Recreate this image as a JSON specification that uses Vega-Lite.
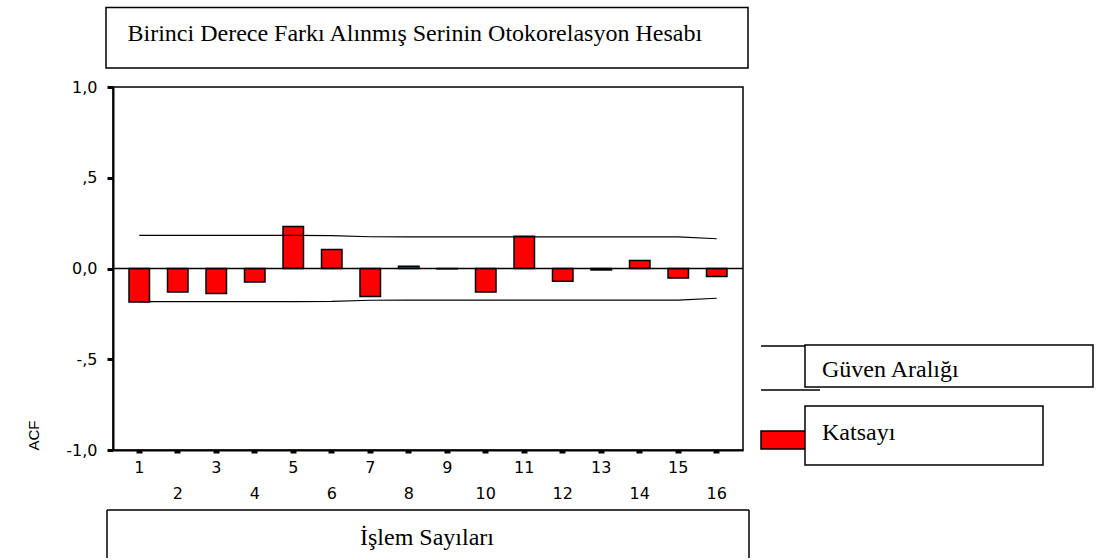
{
  "$schema": "https://vega.github.io/schema/vega-lite/v6.json",
  "width": 630,
  "height": 363,
  "autosize": {"type": "none"},
  "padding": {"left": 113, "top": 87, "right": 360, "bottom": 110},
  "background": "white",
  "config": {
    "view": {"stroke": "black", "strokeWidth": 1.5},
    "axis": {"domainColor": "black", "domainWidth": 2, "tickColor": "black", "labelColor": "black", "labelFont": "DejaVu Sans", "labelFontSize": 16, "grid": false},
    "legend": {"orient": "none", "title": null, "padding": 0, "symbolSize": 4, "symbolStrokeWidth": 1.5, "symbolStrokeColor": "black", "labelFont": "Liberation Serif", "labelFontSize": 24, "labelColor": "black", "labelLimit": 0}
  },
  "layer": [
    {
      "data": {"values": [
        {"lag": 1, "acf": -0.185, "seri": "Katsayı"},
        {"lag": 2, "acf": -0.13, "seri": "Katsayı"},
        {"lag": 3, "acf": -0.138, "seri": "Katsayı"},
        {"lag": 4, "acf": -0.075, "seri": "Katsayı"},
        {"lag": 5, "acf": 0.231, "seri": "Katsayı"},
        {"lag": 6, "acf": 0.105, "seri": "Katsayı"},
        {"lag": 7, "acf": -0.154, "seri": "Katsayı"},
        {"lag": 8, "acf": 0.012, "seri": "Katsayı"},
        {"lag": 9, "acf": -0.002, "seri": "Katsayı"},
        {"lag": 10, "acf": -0.13, "seri": "Katsayı"},
        {"lag": 11, "acf": 0.178, "seri": "Katsayı"},
        {"lag": 12, "acf": -0.07, "seri": "Katsayı"},
        {"lag": 13, "acf": -0.008, "seri": "Katsayı"},
        {"lag": 14, "acf": 0.044, "seri": "Katsayı"},
        {"lag": 15, "acf": -0.053, "seri": "Katsayı"},
        {"lag": 16, "acf": -0.044, "seri": "Katsayı"}
      ]},
      "mark": {"type": "bar", "stroke": "black", "strokeWidth": 1.5},
      "encoding": {
        "x": {"field": "lag", "type": "ordinal",
          "scale": {"paddingInner": 0.468, "paddingOuter": 0.416},
          "axis": {"title": null, "labelAngle": 0, "tickSize": 3, "tickWidth": 6, "labelPadding": 6, "labelBaseline": "top", "labelLineHeight": 26, "labelOverlap": false,
            "labelExpr": "datum.value % 2 == 0 ? ['', datum.label] : datum.label"}},
        "y": {"field": "acf", "type": "quantitative",
          "scale": {"domain": [-1, 1], "nice": false, "zero": false},
          "axis": {"title": "ACF", "values": [-1, -0.5, 0, 0.5, 1], "tickSize": 6, "tickWidth": 3, "labelPadding": 10, "labelFlush": false,
            "labelExpr": "datum.value == 1 ? '1,0' : datum.value == 0.5 ? ',5' : datum.value == 0 ? '0,0' : datum.value == -0.5 ? '-,5' : '-1,0'",
            "titleFont": "Liberation Sans", "titleFontSize": 15, "titleFontWeight": "normal", "titleColor": "black", "titleAnchor": "start", "titlePadding": 24}},
        "fill": {"field": "seri", "type": "nominal", "scale": {"range": ["#ff0000"]},
          "legend": {"legendX": 658, "legendY": 334, "symbolType": "M-22,-2H22V16H-22Z M22,-27H260V32H22Z M22,-27V32H260V-27Z", "labelOffset": 27}}
      }
    },
    {
      "data": {"values": [
        {"lag": 1, "ust": 0.182, "alt": -0.182, "seri": "Güven Aralığı"},
        {"lag": 2, "ust": 0.182, "alt": -0.182, "seri": "Güven Aralığı"},
        {"lag": 3, "ust": 0.182, "alt": -0.182, "seri": "Güven Aralığı"},
        {"lag": 4, "ust": 0.182, "alt": -0.182, "seri": "Güven Aralığı"},
        {"lag": 5, "ust": 0.182, "alt": -0.182, "seri": "Güven Aralığı"},
        {"lag": 6, "ust": 0.181, "alt": -0.181, "seri": "Güven Aralığı"},
        {"lag": 7, "ust": 0.175, "alt": -0.175, "seri": "Güven Aralığı"},
        {"lag": 8, "ust": 0.174, "alt": -0.174, "seri": "Güven Aralığı"},
        {"lag": 9, "ust": 0.174, "alt": -0.174, "seri": "Güven Aralığı"},
        {"lag": 10, "ust": 0.174, "alt": -0.174, "seri": "Güven Aralığı"},
        {"lag": 11, "ust": 0.174, "alt": -0.174, "seri": "Güven Aralığı"},
        {"lag": 12, "ust": 0.174, "alt": -0.174, "seri": "Güven Aralığı"},
        {"lag": 13, "ust": 0.174, "alt": -0.174, "seri": "Güven Aralığı"},
        {"lag": 14, "ust": 0.174, "alt": -0.174, "seri": "Güven Aralığı"},
        {"lag": 15, "ust": 0.174, "alt": -0.174, "seri": "Güven Aralığı"},
        {"lag": 16, "ust": 0.164, "alt": -0.164, "seri": "Güven Aralığı"}
      ]},
      "layer": [
        {
          "mark": {"type": "line", "strokeWidth": 1.2},
          "encoding": {
            "x": {"field": "lag", "type": "ordinal"},
            "y": {"field": "ust", "type": "quantitative"},
            "stroke": {"field": "seri", "type": "nominal", "scale": {"range": ["black"]},
              "legend": {"legendX": 658, "legendY": 271, "symbolType": "M-22,-24H22M-22,20H37M22,-25H310V17H22Z", "symbolFillColor": "transparent", "labelOffset": 27}}
          }
        },
        {
          "mark": {"type": "line", "strokeWidth": 1.2},
          "encoding": {
            "x": {"field": "lag", "type": "ordinal"},
            "y": {"field": "alt", "type": "quantitative"},
            "stroke": {"field": "seri", "type": "nominal"}
          }
        }
      ]
    },
    {
      "data": {"values": [{"sifir": 0}]},
      "mark": {"type": "rule", "strokeWidth": 1.5},
      "encoding": {
        "y": {"field": "sifir", "type": "quantitative"},
        "color": {"datum": "Birinci Derece Farkı Alınmış Serinin Otokorelasyon Hesabı", "type": "nominal", "scale": {"range": ["black"]},
          "legend": {"legendX": -8, "legendY": -65, "symbolType": "M-11,-26.5H631V34H-11Z", "symbolFillColor": "transparent", "labelOffset": -1.5}},
        "strokeDash": {"datum": "İşlem Sayıları", "type": "nominal", "scale": {"range": [[1, 0]]},
          "legend": {"legendX": -8, "legendY": 439, "symbolType": "M-10,20V-28H632V20", "symbolFillColor": "transparent", "labelOffset": 231}}
      }
    }
  ]
}
